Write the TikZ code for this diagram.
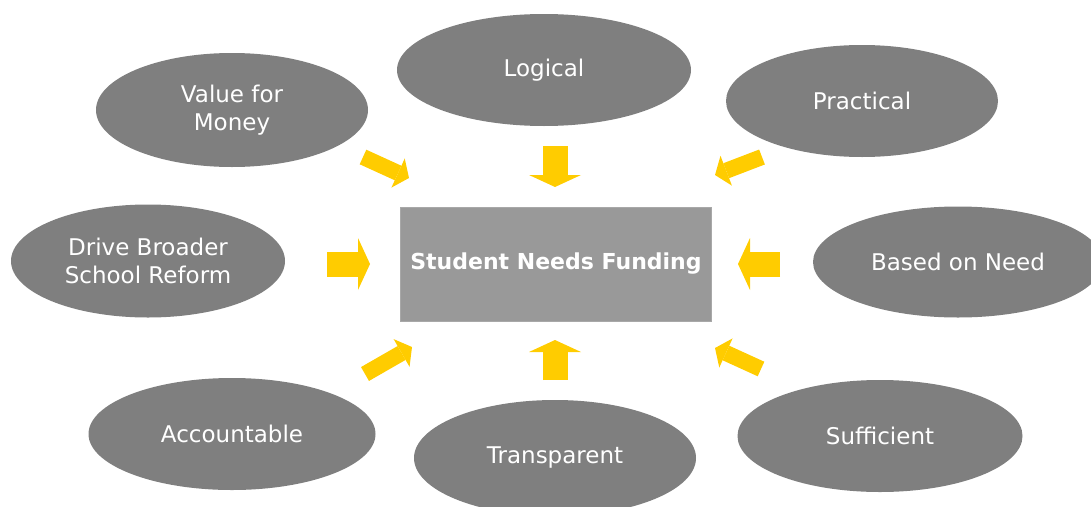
\documentclass[tikz,border=0pt]{standalone}
\usepackage{fontspec}
\setmainfont{DejaVu Sans}
\usepackage{xcolor}
\usepackage{tikz}
\usetikzlibrary{shapes.geometric, arrows.meta}

\definecolor{bubblegray}{RGB}{127,127,127}
\definecolor{boxgray}{RGB}{153,153,153}
\definecolor{arrowyellow}{RGB}{255,204,0}

\tikzset{
    bubble/.style={shape=ellipse, fill=bubblegray, text=white, inner sep=0pt, align=center, font=\fontsize{23}{28}\selectfont},
    bigarrow/.style={draw=arrowyellow, line width=25pt, -{Triangle[length=12pt, width=52pt, line width=0pt 0 0]}},
    smallarrow/.style={draw=arrowyellow, line width=16pt, -{Triangle[length=12pt, width=32pt, line width=0pt 0 0]}}
}

\begin{document}
\begin{tikzpicture}[x=1pt, y=-1pt]
            \useasboundingbox (0,0) rectangle (1091,506);
            \clip (0,0) rectangle (1091,506);

            \node[bubble, minimum width=294pt, minimum height=112pt] (logical) at (544, 70) {Logical};
            \node[bubble, minimum width=272pt, minimum height=114pt] (value) at (232, 110) {Value for\\Money};
            \node[bubble, minimum width=272pt, minimum height=112pt] (practical) at (862, 101) {Practical};
            \node[bubble, minimum width=274pt, minimum height=113pt] (drive) at (148, 261) {Drive Broader\\School Reform};
            \node[bubble, minimum width=290pt, minimum height=111pt] (need) at (958, 262) {Based on Need};
            \node[bubble, minimum width=287pt, minimum height=112pt] (account) at (232, 434) {Accountable};
            \node[bubble, minimum width=282pt, minimum height=116pt] (transparent) at (555, 458) {Transparent};
            \node[bubble, minimum width=285pt, minimum height=112pt] (sufficient) at (880, 436) {Sufficient};

            \node[fill=boxgray, draw=boxgray!85!white, line width=1pt, minimum width=311pt, minimum height=114pt, text=white, font=\bfseries\fontsize{22}{26}\selectfont] (funding) at (556, 264) {Student Needs Funding};

            \coordinate (t1) at (363, 157);
            \coordinate (h1) at (409, 178);
            \coordinate (t2) at (555, 146);
            \coordinate (h2) at (555, 187);
            \coordinate (t3) at (762, 157);
            \coordinate (h3) at (715, 175);
            \coordinate (t4) at (327, 264);
            \coordinate (h4) at (370, 264);
            \coordinate (t5) at (780, 264);
            \coordinate (h5) at (738, 264);
            \coordinate (t6) at (365, 374);
            \coordinate (h6) at (412, 347);
            \coordinate (t7) at (555, 380);
            \coordinate (h7) at (555, 340);
            \coordinate (t8) at (761, 369);
            \coordinate (h8) at (715, 348);

            \path (t1) edge[smallarrow] (h1);
            \path (t2) edge[bigarrow] (h2);
            \path (t3) edge[smallarrow] (h3);
            \path (t4) edge[bigarrow] (h4);
            \path (t5) edge[bigarrow] (h5);
            \path (t6) edge[smallarrow] (h6);
            \path (t7) edge[bigarrow] (h7);
            \path (t8) edge[smallarrow] (h8);
        \end{tikzpicture}
\end{document}
